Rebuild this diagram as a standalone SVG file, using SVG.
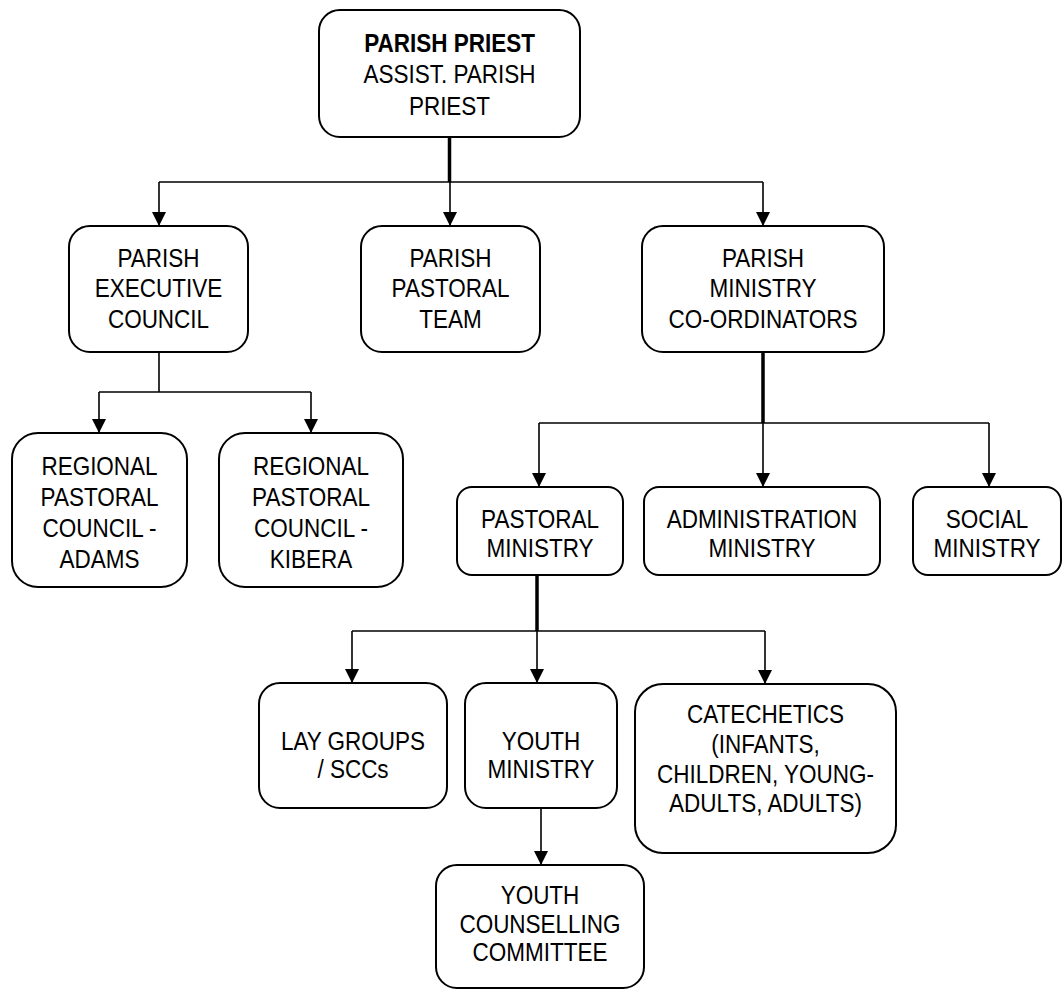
<svg xmlns="http://www.w3.org/2000/svg" width="1063" height="990" viewBox="0 0 1063 990">
<style>
.box{fill:#fff;stroke:#000;stroke-width:2}
.t{font-family:"Liberation Sans",Arial,sans-serif;font-size:25px;fill:#000;text-anchor:middle}
.b{font-weight:bold}
.ln{fill:none;stroke:#000;stroke-width:1.6}
.thick{fill:none;stroke:#000;stroke-width:3.5}
.ar{marker-end:url(#arr)}
</style>
<defs>
<marker id="arr" viewBox="0 0 16 16" refX="15" refY="8" markerWidth="16" markerHeight="16" orient="auto" markerUnits="userSpaceOnUse">
<path d="M1,1 L15,8 L1,15 z" fill="#000"/>
</marker>
</defs>
<rect width="1063" height="990" fill="#fff"/>
<g id="connectors">
<path class="thick" d="M449.5,137 V182"/>
<path class="ln" d="M159,182 H763"/>
<path class="ln ar" d="M159,182 V226"/>
<path class="ln ar" d="M450,182 V226"/>
<path class="ln ar" d="M763,182 V226"/>
<path class="ln" d="M159,352 V392"/>
<path class="ln" d="M99,392 H311"/>
<path class="ln ar" d="M99,392 V433"/>
<path class="ln ar" d="M311,392 V433"/>
<path class="thick" d="M763,352 V423"/>
<path class="ln" d="M539,423 H989"/>
<path class="ln ar" d="M539,423 V487"/>
<path class="ln ar" d="M763,423 V487"/>
<path class="ln ar" d="M989,423 V487"/>
<path class="thick" d="M537,575 V631"/>
<path class="ln" d="M352,631 H765"/>
<path class="ln ar" d="M352,631 V683"/>
<path class="ln ar" d="M537,631 V683"/>
<path class="ln ar" d="M765,631 V684"/>
<path class="ln ar" d="M541,808 V865"/>
</g>
<g id="parish-priest">
<rect class="box" x="319" y="10" width="261" height="127" rx="21"/>
<text class="t" transform="translate(449.5 0) scale(0.9 1)"><tspan class="b" x="0" y="52">PARISH PRIEST</tspan><tspan x="0" y="83">ASSIST. PARISH</tspan><tspan x="0" y="115">PRIEST</tspan></text>
</g>
<g id="executive-council">
<rect class="box" x="69" y="226" width="179" height="126" rx="21"/>
<text class="t" transform="translate(158.5 0) scale(0.9 1)"><tspan x="0" y="267">PARISH</tspan><tspan x="0" y="297">EXECUTIVE</tspan><tspan x="0" y="328">COUNCIL</tspan></text>
</g>
<g id="pastoral-team">
<rect class="box" x="361" y="226" width="179" height="126" rx="21"/>
<text class="t" transform="translate(450.5 0) scale(0.9 1)"><tspan x="0" y="267">PARISH</tspan><tspan x="0" y="297">PASTORAL</tspan><tspan x="0" y="328">TEAM</tspan></text>
</g>
<g id="ministry-coordinators">
<rect class="box" x="642" y="226" width="242" height="126" rx="21"/>
<text class="t" transform="translate(763 0) scale(0.9 1)"><tspan x="0" y="267">PARISH</tspan><tspan x="0" y="297">MINISTRY</tspan><tspan x="0" y="328">CO-ORDINATORS</tspan></text>
</g>
<g id="regional-adams">
<rect class="box" x="12" y="433" width="175" height="154" rx="26"/>
<text class="t" transform="translate(99.5 0) scale(0.9 1)"><tspan x="0" y="475">REGIONAL</tspan><tspan x="0" y="506">PASTORAL</tspan><tspan x="0" y="537">COUNCIL -</tspan><tspan x="0" y="568">ADAMS</tspan></text>
</g>
<g id="regional-kibera">
<rect class="box" x="219" y="433" width="184" height="154" rx="26"/>
<text class="t" transform="translate(311 0) scale(0.9 1)"><tspan x="0" y="475">REGIONAL</tspan><tspan x="0" y="506">PASTORAL</tspan><tspan x="0" y="537">COUNCIL -</tspan><tspan x="0" y="568">KIBERA</tspan></text>
</g>
<g id="pastoral-ministry">
<rect class="box" x="457" y="487" width="166" height="88" rx="15"/>
<text class="t" transform="translate(540 0) scale(0.9 1)"><tspan x="0" y="528">PASTORAL</tspan><tspan x="0" y="557">MINISTRY</tspan></text>
</g>
<g id="administration-ministry">
<rect class="box" x="644" y="487" width="236" height="88" rx="15"/>
<text class="t" transform="translate(762 0) scale(0.9 1)"><tspan x="0" y="528">ADMINISTRATION</tspan><tspan x="0" y="557">MINISTRY</tspan></text>
</g>
<g id="social-ministry">
<rect class="box" x="913" y="487" width="148" height="88" rx="15"/>
<text class="t" transform="translate(987 0) scale(0.9 1)"><tspan x="0" y="528">SOCIAL</tspan><tspan x="0" y="557">MINISTRY</tspan></text>
</g>
<g id="lay-groups">
<rect class="box" x="259" y="683" width="188" height="125" rx="21"/>
<text class="t" transform="translate(353 0) scale(0.9 1)"><tspan x="0" y="750">LAY GROUPS</tspan><tspan x="0" y="778">/ SCCs</tspan></text>
</g>
<g id="youth-ministry">
<rect class="box" x="465" y="683" width="152" height="125" rx="21"/>
<text class="t" transform="translate(541 0) scale(0.9 1)"><tspan x="0" y="750">YOUTH</tspan><tspan x="0" y="778">MINISTRY</tspan></text>
</g>
<g id="catechetics">
<rect class="box" x="635" y="684" width="261" height="169" rx="28"/>
<text class="t" transform="translate(765.5 0) scale(0.9 1)"><tspan x="0" y="723">CATECHETICS</tspan><tspan x="0" y="753">(INFANTS,</tspan><tspan x="0" y="783">CHILDREN, YOUNG-</tspan><tspan x="0" y="812">ADULTS, ADULTS)</tspan></text>
</g>
<g id="youth-counselling">
<rect class="box" x="436" y="865" width="208" height="123" rx="21"/>
<text class="t" transform="translate(540 0) scale(0.9 1)"><tspan x="0" y="904">YOUTH</tspan><tspan x="0" y="933">COUNSELLING</tspan><tspan x="0" y="961">COMMITTEE</tspan></text>
</g>
</svg>
